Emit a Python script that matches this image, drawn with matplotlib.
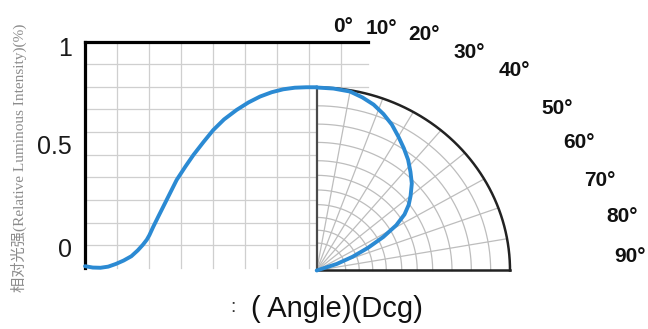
import numpy as np
import matplotlib
matplotlib.use('Agg')
import matplotlib.pyplot as plt
from matplotlib import font_manager

# curva izquierda: angulo (grados) vs intensidad (unidades de la grilla, arriba = 1)
ang_izq = [-90, -87, -84, -81, -78, -75, -72, -69.5, -67.5, -66, -65, -63.5,
           -61.5, -59.6, -57, -54.4, -51, -47.9, -44, -40.2, -36, -31.1,
           -26.5, -22, -17.5, -13, -8.5, -4, 0]
int_izq = [0.008, 0.002, 0.001, 0.006, 0.018, 0.033, 0.052, 0.078, 0.103,
           0.125, 0.145, 0.182, 0.228, 0.271, 0.330, 0.389, 0.448, 0.499,
           0.556, 0.609, 0.656, 0.698, 0.731, 0.757, 0.776, 0.789, 0.796,
           0.798, 0.798]

# curva polar: angulo desde la vertical (grados) y radio relativo (borde = 1)
ang_pol = [0, 5, 10, 14, 18, 22, 26, 30, 34, 38, 42, 46, 50, 53, 56, 59, 62,
           65, 68, 71, 74]
rad_pol = [1.0, 0.998, 0.993, 0.975, 0.953, 0.922, 0.887, 0.845, 0.806,
           0.768, 0.725, 0.684, 0.634, 0.596, 0.548, 0.48, 0.39, 0.292,
           0.20, 0.11, 0.0]

# grilla polar
arcos = [0.15, 0.22, 0.29, 0.36, 0.44, 0.52, 0.60, 0.70, 0.80, 0.90]
radiales = [10, 20, 30, 40, 50, 60, 70, 80]

# etiquetas
etq_y = ['0', '0.5', '1']
etq_ang = ['0°', '10°', '20°', '30°', '40°', '50°', '60°', '70°', '80°', '90°']
titulo_x = '( Angle)(Dcg)'
titulo_y = '相对光强(Relative Luminous Intensity)(%)'

# =============================================================================
# escala: pixeles de la imagen -> unidades (grados en x, intensidad en y)
# =============================================================================
W, H = 648, 329
x0_px, ppg = 316.7, 2.574      # centro polar y pixeles por grado
y0_px, ppu = 268.0, 226.5      # v=0 y pixeles por unidad
rx = 193.3 / ppg               # radio polar horizontal
ry = 183.0 / ppu               # radio polar vertical
pol_y0 = -0.011
paso = 32 / ppg                # paso de la grilla vertical
x_fin = (368 - x0_px) / ppg    # fin de la linea superior


def gx(px):
    return (px - x0_px) / ppg


def gy(py):
    return (y0_px - py) / ppu


fig = plt.figure(figsize=(W / 100, H / 100), dpi=100)
ax = fig.add_axes([0, 0, 1, 1])
ax.set_xlim(gx(0), gx(W))
ax.set_ylim(gy(H), gy(0))
ax.axis('off')

gris = '#cfcfcf'
# grilla rectangular
for k in range(1, 9):
    ax.plot([-90 + k * paso] * 2, [0.002, 1], color=gris, lw=0.9, zorder=1)
for k in range(1, 10):
    ax.plot([-90, x_fin], [k / 10] * 2, color=gris, lw=0.9, zorder=1)
ax.plot([-90, -90], [0.0, 1], color='black', lw=2.3, zorder=4)
ax.plot([-90, x_fin], [1, 1], color='black', lw=2.3, zorder=4)

# cuadrante polar
t = np.radians(np.linspace(0, 90, 200))
ax.fill(np.r_[0, rx * np.sin(t)], np.r_[pol_y0, pol_y0 + ry * np.cos(t)],
        color='white', zorder=2)
for r in arcos:
    ax.plot(r * rx * np.sin(t), pol_y0 + r * ry * np.cos(t),
            color='#bdbdbd', lw=0.9, zorder=3)
for a in radiales:
    ar = np.radians(a)
    ax.plot([0, rx * np.sin(ar)], [pol_y0, pol_y0 + ry * np.cos(ar)],
            color='#bdbdbd', lw=0.9, zorder=3)
ax.plot(rx * np.sin(t), pol_y0 + ry * np.cos(t), color='#222222', lw=1.8, zorder=4)
ax.plot([0, 0], [pol_y0, pol_y0 + ry], color='#4a4a4a', lw=1.6, zorder=4)
ax.plot([0, rx], [pol_y0, pol_y0], color='#222222', lw=1.8, zorder=4)

# curvas
azul = '#2b8ad3'
ax.plot(ang_izq, int_izq, color=azul, lw=2.8, zorder=5,
        solid_capstyle='round', solid_joinstyle='round')
tp = np.radians(ang_pol)
ax.plot(rx * np.array(rad_pol) * np.sin(tp),
        pol_y0 + ry * np.array(rad_pol) * np.cos(tp),
        color=azul, lw=2.8, zorder=5, solid_capstyle='round',
        solid_joinstyle='round')

# etiquetas eje y
pos_y = [250, 147, 49]
for s, py in zip(etq_y, pos_y):
    ax.text(gx(72), gy(py), s, ha='right', va='center', fontsize=18,
            family='Liberation Sans', color='#1a1a1a')

# etiquetas de angulo (borde derecho de cada texto)
nombres = {f.name for f in font_manager.fontManager.ttflist}
f_ang = 'Liberation Sans Narrow' if 'Liberation Sans Narrow' in nombres else 'Liberation Sans'
pos_ang = [(353, 26), (397, 28), (440, 34), (485, 52), (530, 70),
           (573, 108), (595, 143), (616, 180), (638, 216), (646, 256)]
for s, (px, py) in zip(etq_ang, pos_ang):
    ax.text(gx(px), gy(py), s, ha='right', va='center', fontsize=15,
            family=f_ang, fontweight='bold', color='#111111')

# titulos
ax.text(gx(337), gy(309), titulo_x, ha='center', va='center', fontsize=21,
        family='Liberation Sans', color='#111111')
ax.text(gx(233), gy(308), ':', ha='center', va='center', fontsize=14,
        family='Liberation Sans', color='#333333')
ax.text(gx(19), gy(158), titulo_y, ha='center', va='center', rotation=90,
        fontsize=11, family=['Liberation Serif', 'Noto Sans CJK SC'],
        color='#8c8c8c')

plt.savefig('out.png', dpi=100)
